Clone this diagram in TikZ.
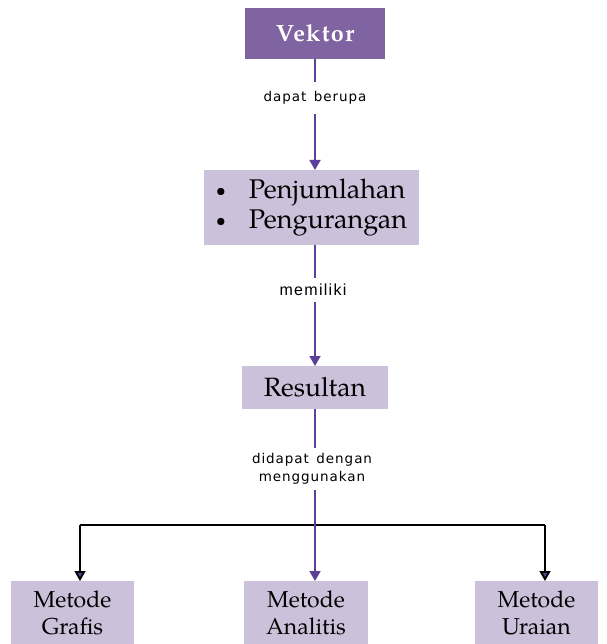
\documentclass[tikz,border=0pt]{standalone}
\usepackage{fontspec}
\setmainfont{TeX Gyre Pagella}
\newfontfamily\labelfont[LetterSpace=7]{DejaVu Sans}
\newfontfamily\arialfont[LetterSpace=8]{Liberation Sans}
\newfontfamily\titlefont[LetterSpace=5]{TeX Gyre Pagella}
\usetikzlibrary{arrows.meta}
\definecolor{darkpurple}{HTML}{8064A2}
\definecolor{lightpurple}{HTML}{CCC1DA}
\definecolor{linepurple}{HTML}{5B3F99}
\tikzset{
  box/.style={fill=lightpurple, draw=none, inner sep=0pt, align=center, font=\fontsize{23}{27}\selectfont},
  lbl/.style={fill=white, inner sep=2pt, align=center, font=\labelfont\fontsize{13.5}{18}\selectfont},
  tip/.style={-{Triangle[width=11pt,length=10pt,open,fill=linepurple,line width=1.8pt]}},
  pline/.style={draw=linepurple, line width=2.4pt, tip},
  bline/.style={draw=black, line width=2.4pt},
}
\newcommand{\smallbul}{\raisebox{1.5pt}{\fontsize{18}{20}\selectfont\textbullet}}
\begin{document}
\begin{tikzpicture}[x=1pt,y=-1pt]
\useasboundingbox (0,0) rectangle (606,644);
\node[fill=darkpurple, text=white, minimum width=140pt, minimum height=51pt, inner sep=0pt, font=\titlefont\bfseries\fontsize{23.5}{26}\selectfont] (vek) at (315,33.5) {Vektor};
\node[box, minimum width=215pt, minimum height=75pt, font=\fontsize{27}{30}\selectfont] (ops) at (311.5,207.5) {%
  \begin{tabular}{@{}l@{\hspace{23pt}}l@{}}\smallbul & Penjumlahan\\ \smallbul & Pengurangan\end{tabular}};
\node[box, minimum width=146pt, minimum height=43pt, font=\fontsize{26.5}{30}\selectfont] (res) at (315,387.5) {Resultan};
\node[box, minimum width=123pt, minimum height=63pt] (gra) at (72.5,612.5) {Metode\\Grafis};
\node[box, minimum width=124pt, minimum height=63pt] (ana) at (306,612.5) {Metode\\Analitis};
\node[box, minimum width=123pt, minimum height=63pt] (ura) at (536.5,612.5) {Metode\\Uraian};
% connectors
\coordinate (jl) at (80,525);
\coordinate (jr) at (545,525);
\coordinate (gt) at (80,581);
\coordinate (ut) at (545,581);
\draw[bline] (jl) -- (jr);
\draw[bline, tip, draw=black] (jl) -- (gt);
\draw[bline, tip, draw=black] (jr) -- (ut);
\draw[pline] (vek.south) -- (315,170);
\draw[pline] (315,245) -- (315,366);
\draw[pline] (res.south) -- (315,581);
% labels
\node[lbl, inner xsep=3pt, inner ysep=9pt] (l1) at (315,98) {dapat\, berupa};
\node[lbl, inner ysep=6pt, font=\arialfont\fontsize{16}{18}\selectfont] (l2) at (313,290) {memiliki};
\node[lbl, inner ysep=5pt] (l3) at (312,469) {didapat\, dengan\\menggunakan};
\end{tikzpicture}
\end{document}
